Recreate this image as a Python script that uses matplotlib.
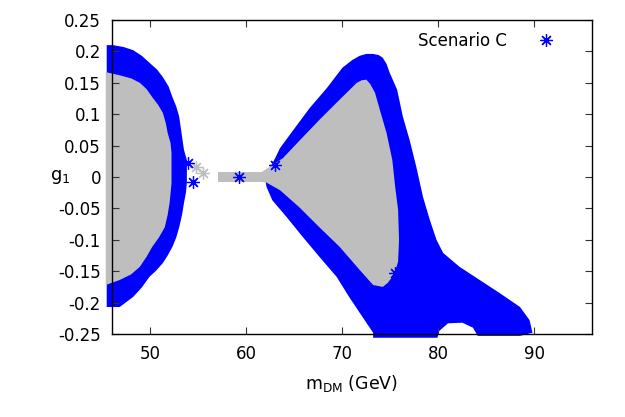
import matplotlib
matplotlib.use("Agg")
import matplotlib.pyplot as plt

# outlines of the scanned regions (m_DM in GeV, g1)
left_blue_x = [45.45, 46.1, 47.2, 48.2, 49.1, 49.9, 50.7, 51.3, 51.9, 52.3, 52.7, 53.0, 53.3,
               53.5, 53.8, 53.8, 53.7, 53.5, 53.3, 53.0, 52.7, 52.3, 51.8, 51.3, 50.6, 49.9,
               49.1, 48.2, 46.8, 45.45]
left_blue_y = [0.210, 0.210, 0.207, 0.202, 0.193, 0.182, 0.171, 0.159, 0.144, 0.127, 0.112,
               0.096, 0.064, 0.043, 0.027, -0.009, -0.025, -0.041, -0.060, -0.080, -0.096,
               -0.111, -0.125, -0.137, -0.149, -0.159, -0.176, -0.191, -0.207, -0.207]

left_grey_x = [45.35, 46.8, 48.0, 48.9, 49.6, 50.2, 50.8, 51.3, 51.6, 51.8, 52.1, 52.2, 52.2,
               52.1, 52.0, 51.8, 51.5, 50.9, 50.2, 49.6, 48.9, 48.0, 46.8, 45.35]
left_grey_y = [0.167, 0.162, 0.157, 0.150, 0.140, 0.127, 0.115, 0.102, 0.086, 0.070, 0.054,
               0.038, -0.010, -0.026, -0.041, -0.060, -0.080, -0.096, -0.111, -0.127, -0.143,
               -0.155, -0.164, -0.172]

strip_grey_x = [57.0, 61.9, 61.9, 57.0]
strip_grey_y = [0.008, 0.008, -0.008, -0.008]

right_blue_x = [62.9, 63.5, 64.8, 66.6, 68.4, 70.0, 71.0, 71.8, 72.5, 73.2, 73.8, 74.2, 74.6,
                74.9, 75.7, 76.3, 77.0, 77.7, 78.4, 79.1, 79.8, 80.5, 82.2, 84.3, 86.4, 88.5,
                89.5, 89.8, 88.5, 84.1, 83.6, 82.5, 81.0, 80.1, 79.9, 73.2, 73.2, 72.1, 70.7,
                69.4, 67.6, 65.9, 64.2, 62.7, 62.1, 61.9]
right_blue_y = [0.027, 0.046, 0.073, 0.110, 0.142, 0.174, 0.186, 0.193, 0.196, 0.196, 0.194,
                0.190, 0.180, 0.167, 0.139, 0.096, 0.059, 0.016, -0.032, -0.068, -0.100, -0.121,
                -0.143, -0.164, -0.185, -0.207, -0.228, -0.248, -0.253, -0.253, -0.240, -0.232,
                -0.233, -0.245, -0.256, -0.256, -0.248, -0.223, -0.191, -0.159, -0.127, -0.096,
                -0.064, -0.037, -0.016, 0.0]

right_grey_x = [61.6, 63.8, 65.6, 67.6, 69.7, 71.5, 72.0, 72.5, 72.9, 73.4, 73.9, 74.6, 75.2,
                75.5, 75.8, 75.9, 75.8, 75.5, 75.2, 74.7, 74.2, 73.2, 71.8, 69.7, 67.6, 65.5,
                63.5, 62.1, 61.6]
right_grey_y = [0.008, 0.030, 0.059, 0.091, 0.123, 0.150, 0.154, 0.155, 0.148, 0.134, 0.107,
                0.070, 0.027, -0.016, -0.052, -0.100, -0.135, -0.150, -0.159, -0.169, -0.175,
                -0.172, -0.148, -0.111, -0.080, -0.048, -0.021, -0.009, -0.008]

# single points that stand apart
blue_pts_x = [53.9, 54.4, 59.2, 62.95, 75.5]
blue_pts_y = [0.022, -0.008, 0.0, 0.019, -0.153]
grey_pts_x = [54.8, 55.5]
grey_pts_y = [0.016, 0.006]

x_ticks = [50, 60, 70, 80, 90]
y_ticks = [-0.25, -0.2, -0.15, -0.1, -0.05, 0, 0.05, 0.1, 0.15, 0.2, 0.25]
y_tick_labels = ["-0.25", "-0.2", "-0.15", "-0.1", "-0.05", "0", "0.05", "0.1", "0.15", "0.2", "0.25"]

blue = "#0000ff"
grey = "#bebebe"
star = (8, 2, 0)

plt.rcParams["font.family"] = "DejaVu Sans"
plt.rcParams["font.size"] = 12
plt.rcParams["mathtext.fontset"] = "dejavusans"

fig = plt.figure(figsize=(6.25, 4.17), dpi=100)
ax = fig.add_axes([112 / 625, 1 - 334 / 417, 480 / 625, 314 / 417])

ax.fill(left_blue_x, left_blue_y, color=blue, lw=0, clip_on=False, zorder=1)
ax.fill(right_blue_x, right_blue_y, color=blue, lw=0, clip_on=False, zorder=1)
ax.fill(left_grey_x, left_grey_y, color=grey, lw=0, clip_on=False, zorder=1.2)
ax.fill(right_grey_x, right_grey_y, color=grey, lw=0, clip_on=False, zorder=1.2)
ax.fill(strip_grey_x, strip_grey_y, color=grey, lw=0, zorder=1.2)

ax.plot(grey_pts_x, grey_pts_y, ls="none", marker=star, ms=9, mew=0.9, color=grey, zorder=1.3)
ax.plot(blue_pts_x, blue_pts_y, ls="none", marker=star, ms=9, mew=0.9, color=blue, zorder=1.4,
        label="Scenario C")

ax.set_xlim(46, 96)
ax.set_ylim(-0.25, 0.25)
ax.set_xticks(x_ticks)
ax.set_xticklabels([str(t) for t in x_ticks])
ax.set_yticks(y_ticks)
ax.set_yticklabels(y_tick_labels)
ax.tick_params(direction="in", length=5, width=0.8, top=True, right=True, color="#333333",
               labelsize=12)
ax.tick_params(axis="x", pad=8)
ax.tick_params(axis="y", pad=8)
for s in ax.spines.values():
    s.set_linewidth(1.0)
    s.set_zorder(3)

ax.set_xlabel(r"m$_{\mathrm{DM}}$ (GeV)", fontsize=12.5, va="center")
ax.xaxis.set_label_coords((352 - 112) / 480, -(383 - 334) / 314)
ax.set_ylabel(r"g$_1$", rotation=0, fontsize=13, ha="center", va="center")
ax.yaxis.set_label_coords((60 - 112) / 480, 0.5)

ax.legend(loc="upper right", frameon=False, markerfirst=False, handlelength=1.5,
          handletextpad=1.6, bbox_to_anchor=(1 - 22 / 480, 1.0), borderaxespad=0.3,
          fontsize=12)

fig.savefig("out.png", dpi=100)
